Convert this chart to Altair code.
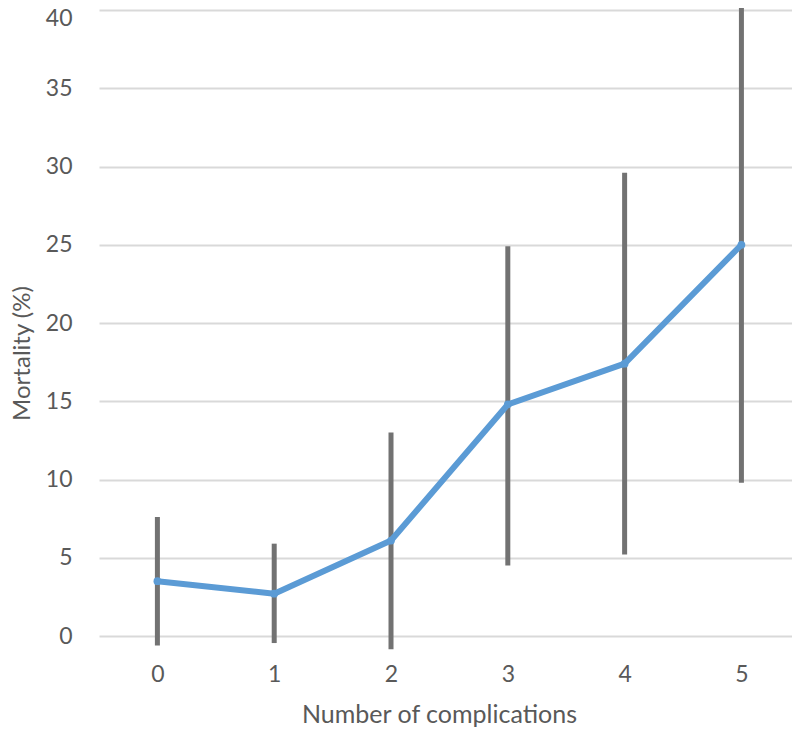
import altair as alt
import pandas as pd

complications = [0, 1, 2, 3, 4, 5]
mortality = [3.5, 2.7, 6.1, 14.8, 17.4, 25.0]
ci_lower = [-0.6, -0.45, -0.85, 4.5, 5.2, 9.8]
ci_upper = [7.6, 5.9, 13.0, 24.9, 29.6, 40.2]
y_ticks = [0, 5, 10, 15, 20, 25, 30, 35, 40]

df = pd.DataFrame({
    "n": complications,
    "mortality": mortality,
    "lo": ci_lower,
    "hi": ci_upper,
})

FONT = "Lato"
GRAY = "#595959"

x_enc = alt.X(
    "n:Q",
    scale=alt.Scale(domain=[-0.5, 5.433], nice=False, zero=False),
    axis=alt.Axis(
        values=complications, format="d", grid=False, domain=False, ticks=False,
        labelFont=FONT, labelFontSize=23, labelColor=GRAY, labelPadding=27,
        title="Number of complications", titleFont=FONT, titleFontSize=25,
        titleFontWeight="normal", titleColor=GRAY, titleBaseline="alphabetic",
        titleX=340, titleY=86, titleAlign="center",
    ),
)
y_scale = alt.Scale(domain=[0, 40], nice=False, clamp=False)
y_axis = alt.Axis(
    values=y_ticks, grid=True, gridColor="#D9D9D9", gridWidth=2, domain=False, ticks=False,
    labelFont=FONT, labelFontSize=23, labelColor=GRAY, labelPadding=27,
    labelOffset={"condition": {"test": "datum.value == 40", "value": 8}, "value": 0},
    title="Mortality (%)", titleFont=FONT, titleFontSize=24, titleFontWeight="normal",
    titleColor=GRAY, titleAngle=270, titleBaseline="alphabetic", titleAlign="center",
    titleX=-70, titleY=343,
)

bars = alt.Chart(df).mark_rule(color="#727272", strokeWidth=5).encode(
    x=x_enc,
    y=alt.Y("lo:Q", scale=y_scale, axis=y_axis),
    y2="hi:Q",
)
line = alt.Chart(df).mark_line(
    color="#5B9BD5", strokeWidth=6, strokeCap="round", strokeJoin="round"
).encode(x="n:Q", y="mortality:Q")
pts = alt.Chart(df).mark_point(filled=True, color="#5B9BD5", size=60, opacity=1).encode(
    x="n:Q", y="mortality:Q"
)

chart = alt.layer(bars, line, pts).properties(
    width=693, height=626,
    autosize=alt.AutoSizeParams(type="none"),
    padding={"left": 91, "top": 2, "right": 0, "bottom": 93},
    background="white",
).configure_view(stroke=None)

chart.save("out.html", embed_options={"renderer": "svg", "actions": False})
